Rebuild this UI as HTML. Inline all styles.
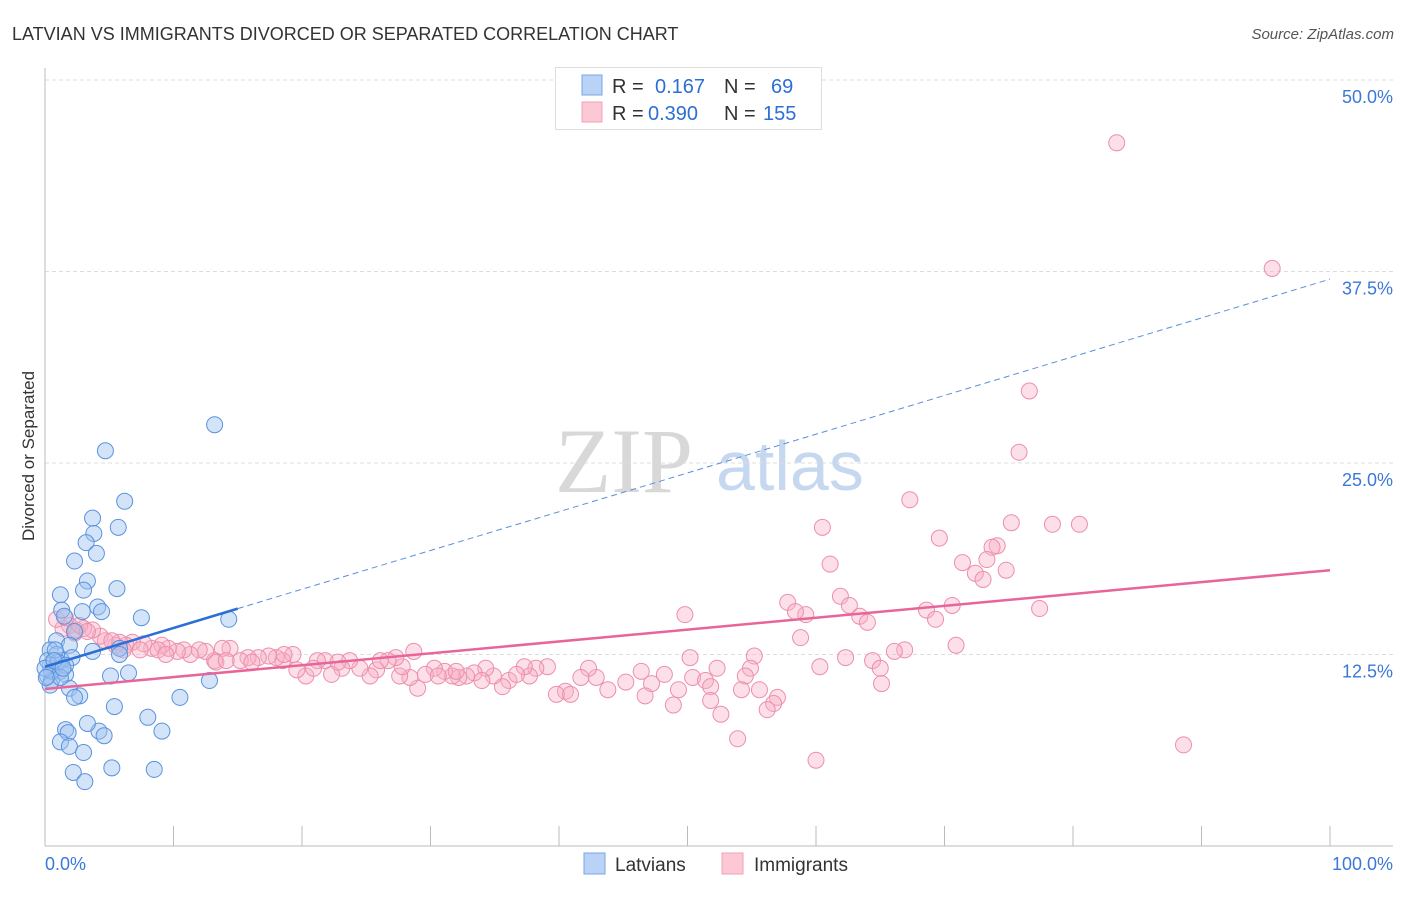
<!DOCTYPE html>
<html><head><meta charset="utf-8"><style>
body{margin:0;background:#fff;font-family:"Liberation Sans",sans-serif}
</style></head><body>
<svg width="1406" height="892" xmlns="http://www.w3.org/2000/svg" id="chart">
<text x="12" y="40" font-size="18" fill="#333">LATVIAN VS IMMIGRANTS DIVORCED OR SEPARATED CORRELATION CHART</text>
<text x="1394" y="39" font-size="15" fill="#555" font-style="italic" text-anchor="end">Source: ZipAtlas.com</text>
<text x="555" y="492" font-size="92" fill="#d8d8d8" font-family="Liberation Serif,serif">ZIP</text>
<text x="716" y="490" font-size="70" fill="#c5d8f0">atlas</text>
<g id="grid"></g><g id="pts"></g><g id="trend"></g>
<text transform="translate(34,456) rotate(-90)" font-size="17" fill="#333" text-anchor="middle">Divorced or Separated</text>
<g>
<rect x="555.5" y="67.5" width="266" height="62" fill="#fff" stroke="#ddd"/>
<rect x="582" y="75" width="20" height="20" fill="#b8d3f5" stroke="#7aa6e6"/>
<rect x="582" y="102" width="20" height="20" fill="#fcc8d6" stroke="#f0a0b8"/>
<text x="612" y="93" font-size="20" fill="#333">R = <tspan fill="#2c6fd4" x="655">0.167</tspan><tspan fill="#333" x="724">N =</tspan><tspan fill="#2c6fd4" x="771">69</tspan></text>
<text x="612" y="120" font-size="20" fill="#333">R = <tspan fill="#2c6fd4" x="648">0.390</tspan><tspan fill="#333" x="724">N =</tspan><tspan fill="#2c6fd4" x="763">155</tspan></text>
</g>
<g>
<rect x="584" y="853" width="21" height="21" fill="#b8d3f5" stroke="#7aa6e6"/>
<text x="615" y="871" font-size="19" fill="#333">Latvians</text>
<rect x="722" y="853" width="21" height="21" fill="#fcc8d6" stroke="#f0a0b8"/>
<text x="754" y="871" font-size="19" fill="#333">Immigrants</text>
</g>
</svg>
<script>
const blueX=[13.2,4.7,6.2,3.7,5.7,3.8,3.2,4.0,2.3,3.3,3.0,5.6,1.2,7.5,4.1,4.4,2.9,1.3,14.3,1.5,2.3,5.8,3.7,0.9,1.9,0.4,0.9,1.3,2.1,0.4,0.8,1.2,0.2,0.5,1.6,5.1,6.5,1.9,2.7,2.3,10.5,12.8,5.4,8.0,9.1,4.2,1.6,1.8,3.3,4.6,1.2,1.9,3.0,2.2,3.1,5.2,8.5,0.2,0.5,1.0,0.0,0.4,1.6,0.8,5.8,1.2,0.1,0.7,1.4];
const blueY=[27.5,25.8,22.5,21.4,20.8,20.4,19.8,19.1,18.6,17.3,16.7,16.8,16.4,14.9,15.6,15.3,15.3,15.4,14.8,15.0,14.0,12.9,12.7,13.4,13.1,12.8,12.5,12.1,12.3,11.8,11.6,11.4,11.1,10.8,11.2,11.1,11.3,10.3,9.8,9.7,9.7,10.8,9.1,8.4,7.5,7.5,7.6,7.4,8.0,7.2,6.8,6.5,6.1,4.8,4.2,5.1,5.0,12.1,11.4,12.0,11.6,10.5,11.8,12.8,12.5,11.0,11.0,12.1,11.6];
const pinkX=[83.4,95.5,76.6,75.8,67.3,60.5,78.4,80.5,69.6,75.2,74.1,73.7,71.4,73.3,61.1,72.4,73.0,74.8,61.9,57.8,62.6,59.2,58.4,49.8,63.4,64.0,68.6,70.6,77.4,69.3,58.8,70.9,66.9,66.1,62.3,64.4,50.2,60.3,65.0,55.2,52.3,54.9,54.5,50.4,48.2,51.4,46.4,54.2,55.6,65.1,47.2,49.3,51.8,57.0,56.7,56.2,51.8,48.9,46.7,52.6,53.9,60.0,88.6,45.2,43.8,42.9,42.3,41.7,40.5,39.8,40.9,39.1,38.2,37.7,37.3,36.1,35.6,34.9,34.3,33.4,32.8,32.2,31.7,31.1,30.3,29.6,29.0,28.4,27.6,27.8,27.3,26.7,25.8,25.3,24.5,23.7,23.1,22.3,21.8,21.2,20.3,19.6,19.3,18.5,18.0,17.4,16.6,15.8,15.2,14.4,13.8,13.2,12.5,12.0,11.3,10.8,10.3,9.6,9.1,8.3,7.7,6.8,6.3,5.5,4.7,4.3,3.7,3.0,2.3,1.9,1.4,0.9,1.6,2.4,2.7,3.3,5.8,5.2,6.1,7.4,8.8,9.4,13.3,14.1,16.1,18.6,20.9,22.8,26.1,28.7,30.6,32.0,34.0,36.7];
const pinkY=[45.9,37.7,29.7,25.7,22.6,20.8,21.0,21.0,20.1,21.1,19.6,19.5,18.5,18.7,18.4,17.8,17.4,18.0,16.3,15.9,15.7,15.1,15.3,15.1,15.0,14.6,15.4,15.7,15.5,14.8,13.6,13.1,12.8,12.7,12.3,12.1,12.3,11.7,11.6,12.4,11.6,11.6,11.1,11.0,11.2,10.8,11.4,10.2,10.2,10.6,10.6,10.2,10.4,9.7,9.3,8.9,9.5,9.2,9.8,8.6,7.0,5.6,6.6,10.7,10.2,11.0,11.6,11.0,10.1,9.9,9.9,11.7,11.6,11.1,11.7,10.8,10.4,11.1,11.6,11.3,11.1,11.0,11.1,11.4,11.6,11.2,10.3,11.0,11.1,11.7,12.3,12.1,11.5,11.1,11.6,12.1,11.6,11.2,12.1,12.1,11.1,11.5,12.5,12.1,12.3,12.4,12.3,12.3,12.1,12.9,12.9,12.1,12.7,12.8,12.5,12.8,12.7,12.9,13.1,12.9,13.2,13.3,13.1,13.1,13.4,13.7,14.1,14.2,13.9,14.4,14.2,14.8,14.9,14.1,14.4,14.0,13.3,13.4,12.8,12.8,12.8,12.5,12.0,12.1,12.0,12.5,11.6,12.0,12.1,12.7,11.1,11.4,10.8,11.2];
const yTicks=[12.5,25.0,37.5,50.0];
const yTickLabels=["12.5%","25.0%","37.5%","50.0%"];
const xTicks=[0,10,20,30,40,50,60,70,80,90,100];
const blueTrend=[11.7,0.253]; // intercept, slope
const pinkTrend=[10.25,0.0775];
const NS="http://www.w3.org/2000/svg";
const sx=v=>45+v*12.85, sy=v=>846-v*15.32;
function mk(tag,attrs,parent){const e=document.createElementNS(NS,tag);for(const k in attrs)e.setAttribute(k,attrs[k]);parent.appendChild(e);return e;}
const grid=document.getElementById('grid'),pts=document.getElementById('pts'),tr=document.getElementById('trend');
yTicks.forEach((t,i)=>{
 const l=mk('line',{x1:45,x2:1393,y1:sy(t),y2:sy(t),stroke:'#ddd','stroke-dasharray':'4,3'},grid);
 
 
 const tx=mk('text',{x:1393,y:sy(t)+23,'font-size':18,fill:'#3b78d8','text-anchor':'end'},grid);
 tx.textContent=yTickLabels[i];
 
 
});
mk('line',{x1:45,x2:45,y1:68,y2:846,stroke:'#bbb'},grid);
mk('line',{x1:45,x2:1393,y1:846,y2:846,stroke:'#bbb'},grid);
xTicks.forEach(t=>{const l=mk('line',{x1:sx(t),x2:sx(t),y1:826,y2:846,stroke:'#bbb'},grid);
 
 });
let a=mk('text',{x:45,y:870,'font-size':18,fill:'#3b78d8'},grid);a.textContent='0.0%';


a=mk('text',{x:1393,y:870,'font-size':18,fill:'#3b78d8','text-anchor':'end'},grid);a.textContent='100.0%';


pinkX.forEach((x,i)=>{const c=mk('circle',{cx:sx(x),cy:sy(pinkY[i]),r:8,fill:'rgba(248,175,198,0.4)',stroke:'#ec8fab','stroke-width':1},pts);
 
 });
blueX.forEach((x,i)=>{const c=mk('circle',{cx:sx(x),cy:sy(blueY[i]),r:8,fill:'rgba(160,196,240,0.45)',stroke:'#5a92de','stroke-width':1},pts);
 
 });
let l=mk('line',{x1:sx(0),y1:sy(pinkTrend[0]),x2:sx(100),y2:sy(pinkTrend[0]+pinkTrend[1]*100),stroke:'#e8659a','stroke-width':2.5},tr);


l=mk('line',{x1:sx(0),y1:sy(blueTrend[0]),x2:sx(15),y2:sy(blueTrend[0]+blueTrend[1]*15),stroke:'#2a6fd6','stroke-width':2.5},tr);


l=mk('line',{x1:sx(15),y1:sy(blueTrend[0]+blueTrend[1]*15),x2:sx(100),y2:sy(blueTrend[0]+blueTrend[1]*100),stroke:'#5a8fdd','stroke-width':1,'stroke-dasharray':'6,4'},tr);


</script>
</body></html>
